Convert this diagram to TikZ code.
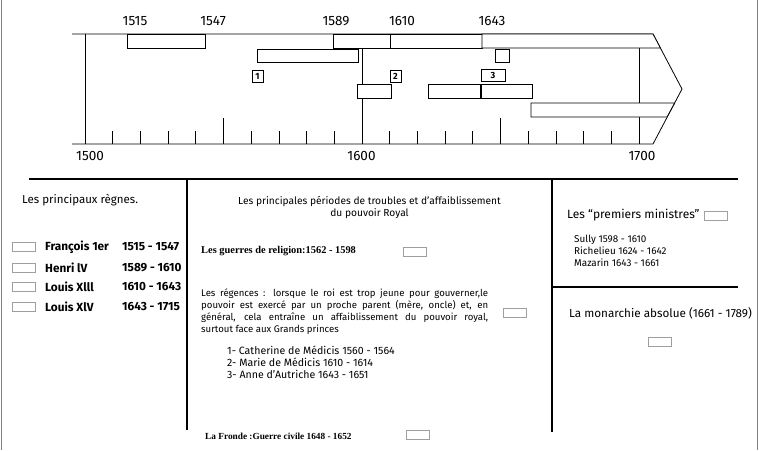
\documentclass[tikz,border=0pt]{standalone}
\usepackage{fontspec}
\setmainfont{Fira Sans}
\newfontfamily\timesfont{Liberation Serif}
\usetikzlibrary{positioning}

\begin{document}
\begin{tikzpicture}[x=1pt, y=-1pt,
    bar/.style={draw, fill=white, line width=0.8pt},
    tick/.style={line width=0.7pt},
    year/.style={inner sep=0pt, font=\fontsize{13.5}{14}\selectfont},
    numbox/.style={draw, fill=white, line width=0.7pt, inner sep=0pt, minimum width=11pt, minimum height=12pt, font=\fontsize{9}{9}\selectfont\bfseries},
    keybox/.style={draw=gray!75, line width=0.6pt, inner sep=0pt, minimum width=23pt, minimum height=9pt},
    sep/.style={line width=1.5pt},
    txt/.style={inner sep=0pt, anchor=west, font=\fontsize{10}{12}\selectfont},
    bigtxt/.style={txt, font=\fontsize{11.5}{13}\selectfont},
    sertxt/.style={txt, font=\fontsize{10.4}{12}\selectfont\timesfont\bfseries}
]
    \useasboundingbox (0,0) rectangle (759,450);

    % page frame
    \draw[gray, line width=1pt] (1,0) -- (1,450);
    \draw[gray, line width=1pt] (757,0) -- (757,450);

    % time axis
    \draw[line width=0.8pt] (72,34) -- (653,34) -- (682,89) -- (653,144) -- (72,144);
    \draw[line width=0.8pt] (85,34) -- (85,144);
    \draw[line width=0.8pt] (362,48) -- (362,144);
    \draw[line width=0.8pt] (639,48) -- (639,144);
    \foreach \i in {1,...,9} {
        \draw[tick] (85+27.7*\i,131) -- (85+27.7*\i,144);
        \draw[tick] (362+27.7*\i,131) -- (362+27.7*\i,144);
    }
    \draw[tick] (223.5,118) -- (223.5,144);
    \draw[tick] (500.5,118) -- (500.5,144);

    % reigns
    \draw[bar] (127,34) rectangle (205,48);
    \draw[bar] (333,34) rectangle (390,48);
    \draw[bar] (390,34) rectangle (482,48);
    \draw[bar] (482,34) -- (653,34) -- (660.4,48) -- (482,48) -- cycle;

    % troubles, regencies, ministers
    \draw[bar] (257,49) rectangle (358,62);
    \draw[bar] (495,49) rectangle (509,62);
    \draw[bar] (357,84) rectangle (391,98);
    \draw[bar] (428,84) rectangle (480,98);
    \draw[bar] (481,84) rectangle (532,98);
    \draw[bar] (531,103) -- (674.6,103) -- (667,117) -- (531,117) -- cycle;

    \node[numbox] (r1) at (257.5,76) {1};
    \node[numbox] (r2) at (395.5,76) {2};
    \node[numbox, minimum width=24pt] (r3) at (493,75.5) {3};

    % years
    \node[year] (y1515) at (135,21) {1515};
    \node[year] (y1547) at (213,21) {1547};
    \node[year] (y1589) at (336,21) {1589};
    \node[year] (y1610) at (402,21) {1610};
    \node[year] (y1643) at (492,21) {1643};
    \node[year] (y1500) at (90,156) {1500};
    \node[year] (y1600) at (361.5,156) {1600};
    \node[year] (y1700) at (642,156) {1700};

    % table frame
    \draw[sep] (29,179) -- (738,179);
    \draw[sep] (187,179) -- (187,430);
    \draw[sep] (552,179) -- (552,432);
    \draw[line width=1.2pt] (552,287) -- (738,287);

    % left column
    \node[bigtxt] (regnes) at (22,200) {Les principaux règnes.};
    \foreach \n/\who/\when/\y in {fr/François 1er/1515 - 1547/247, h4/Henri lV/1589 - 1610/268,
                                  l13/Louis Xlll/1610 - 1643/287, l14/Louis XlV/1643 - 1715/307} {
        \node[keybox] (k\n) at (24,\y) {};
        \node[bigtxt, font=\fontsize{11.8}{13}\selectfont\bfseries] (n\n) at (45,\y) {\who};
        \node[bigtxt, font=\fontsize{11.8}{13}\selectfont\bfseries] (d\n) at (122,\y) {\when};
    }

    % middle column
    \node[txt, anchor=center, align=center, font=\fontsize{10.2}{12}\selectfont] (troubles) at (369.5,207)
        {Les principales périodes de troubles et d'affaiblissement\\du pouvoir Royal};
    \node[sertxt] (guerres) at (201,251) {Les guerres de religion:1562 - 1598};
    \node[keybox] (kguerres) at (414.5,252) {};
    \node[txt, anchor=north west, text width=287pt, align=justify, font=\fontsize{9.6}{12}\selectfont] (regences) at (201,289)
        {Les régences : lorsque le roi est trop jeune pour gouverner,le\linebreak pouvoir est exercé par un proche parent (mère, oncle) et, en\linebreak général, cela entraîne un affaiblissement du pouvoir royal,\linebreak surtout face aux Grands princes};
    \node[keybox] (kregences) at (514.5,313) {};
    \node[txt, anchor=north west, align=left, font=\fontsize{10.6}{12}\selectfont] (liste) at (227,346)
        {1- Catherine de Médicis 1560 - 1564\\2- Marie de Médicis 1610 - 1614\\3- Anne d'Autriche 1643 - 1651};
    \node[sertxt, font=\fontsize{9.3}{12}\selectfont\timesfont\bfseries] (fronde) at (205,436) {La Fronde :Guerre civile 1648 - 1652};
    \node[keybox] (kfronde) at (417.5,434.5) {};

    % right column
    \node[bigtxt, font=\fontsize{12}{13}\selectfont] (ministres) at (567,215) {Les ``premiers ministres''};
    \node[keybox] (kministres) at (715.5,215.5) {};
    \node[txt, anchor=north west, align=left, font=\fontsize{9.9}{12}\selectfont] (noms) at (574,235)
        {Sully 1598 - 1610\\Richelieu 1624 - 1642\\Mazarin 1643 - 1661};
    \node[bigtxt, font=\fontsize{11.7}{13}\selectfont] (absolue) at (569,313) {La monarchie absolue (1661 - 1789)};
    \node[keybox] (kabsolue) at (660,342) {};
\end{tikzpicture}
\end{document}
